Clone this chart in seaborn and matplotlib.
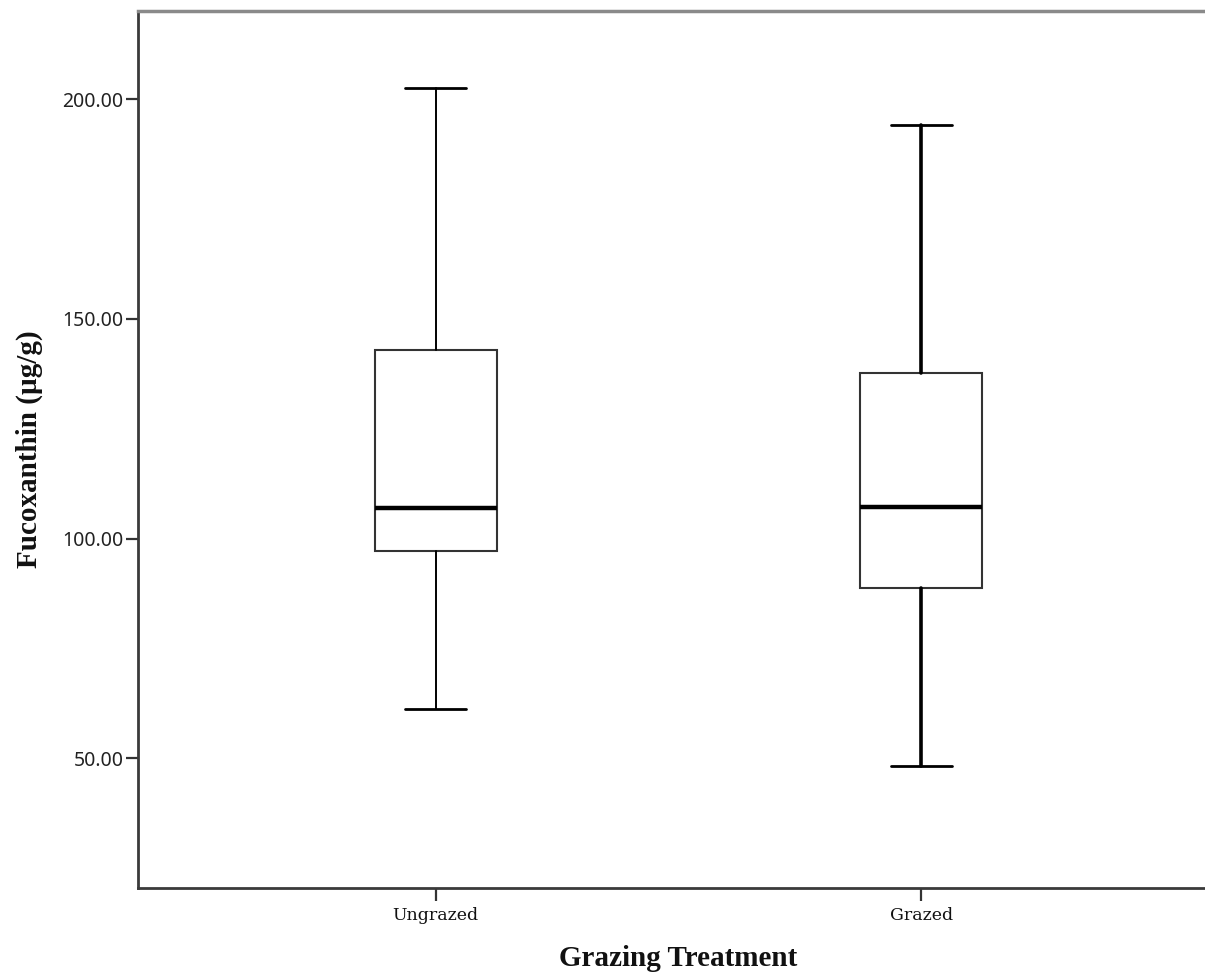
import matplotlib
matplotlib.use("Agg")
import matplotlib.pyplot as plt
import seaborn as sns

# Boxplot summary values
groups = ["Ungrazed", "Grazed"]
whisker_low = [61.3, 48.3]
q1 = [97.3, 88.7]
median = [107.0, 107.2]
q3 = [143.0, 137.6]
whisker_high = [202.6, 194.2]
y_ticks = [50, 100, 150, 200]

sns.set_theme(style="white")
plt.rcParams["figure.facecolor"] = "white"
plt.rcParams["axes.facecolor"] = "white"

fig = plt.figure(figsize=(12.05, 9.76), dpi=100)
# axes continues past the right border (cropped in the original)
ax = fig.add_axes([0.1145, 0.0905, 0.897, 0.898])

stats = []
for i, name in enumerate(groups):
    stats.append({
        "label": name,
        "whislo": whisker_low[i],
        "q1": q1[i],
        "med": median[i],
        "q3": q3[i],
        "whishi": whisker_high[i],
        "fliers": [],
    })

whisker_lw = [1.4, 2.6]
for i, st in enumerate(stats):
    ax.bxp(
        [st], positions=[i], widths=0.251, showfliers=False, patch_artist=True,
        boxprops=dict(facecolor="white", edgecolor="#333333", linewidth=1.5),
        medianprops=dict(color="black", linewidth=3.2, solid_capstyle="butt"),
        whiskerprops=dict(color="black", linewidth=whisker_lw[i]),
        capprops=dict(color="black", linewidth=2.0),
        manage_ticks=False,
    )

ax.set_xlim(-0.613, 1.613)
ax.set_ylim(20.6, 220)
ax.set_xticks(range(len(groups)))
ax.set_xticklabels(groups, family="DejaVu Serif", fontsize=12.5, color="#111111")
ax.set_yticks(y_ticks)
ax.set_yticklabels([f"{v:.2f}" for v in y_ticks], family="Noto Sans",
                   fontsize=14, color="#222222")
ax.tick_params(axis="both", which="major", length=9, width=1.6,
               color="#333333", pad=1.5, left=True, bottom=True)
ax.tick_params(axis="x", pad=5)

sns.despine(ax=ax, top=False, right=True)
for side in ["left", "bottom"]:
    ax.spines[side].set_color("#3a3a3a")
    ax.spines[side].set_linewidth(2.0)
ax.spines["top"].set_color("#8a8a8a")
ax.spines["top"].set_linewidth(2.5)
ax.grid(False)

ax.set_xlabel("Grazing Treatment", family="Liberation Serif", fontweight="bold",
              fontsize=21, color="#111111", labelpad=15)
ax.set_ylabel("Fucoxanthin (µg/g)", family="Liberation Serif", fontweight="bold",
              fontsize=21, color="#111111", labelpad=14)

fig.savefig("out.png", dpi=100)
